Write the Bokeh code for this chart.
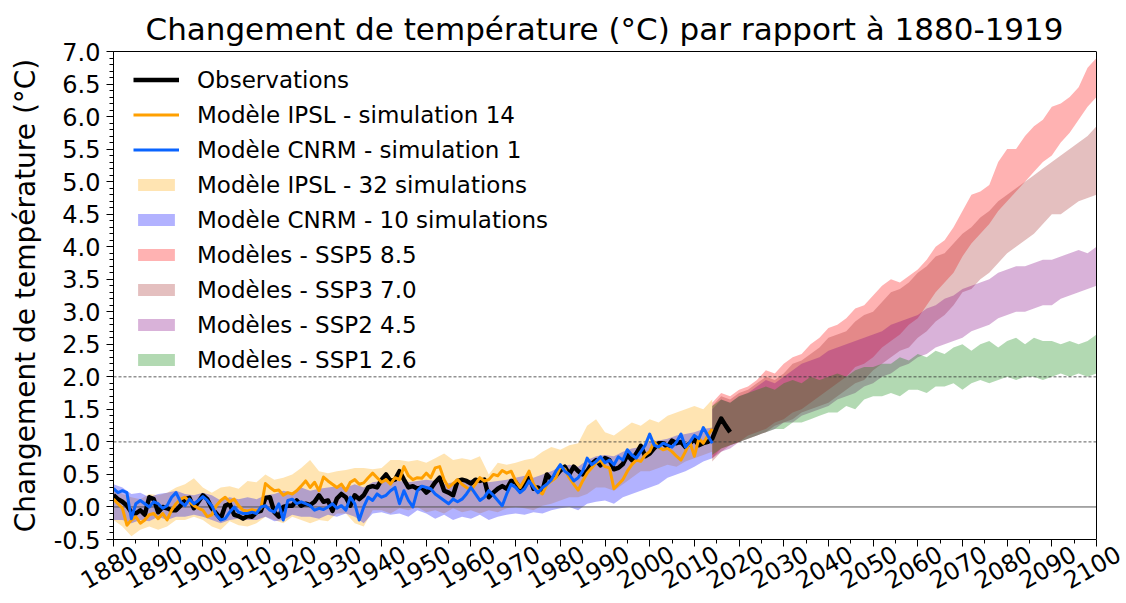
import math
from bokeh.plotting import figure
from bokeh.models import Range1d, FixedTicker, Span, Legend, LegendItem, LinearAxis
from bokeh.embed import file_html
from bokeh.resources import INLINE

FONT = "DejaVu Sans"

# ---------------- data ----------------
obs_years = list(range(1880, 2019))
obs = [
    0.18, 0.12, 0.08, 0.02, -0.08, -0.1, -0.05, -0.12, 0.15, 0.12,
    -0.08, 0.0, -0.02, -0.05, -0.05, 0.02, 0.12, 0.14, -0.02, 0.08,
    0.18, 0.12, -0.02, -0.1, -0.18, 0.02, 0.05, -0.12, -0.14, -0.18,
    -0.14, -0.15, -0.08, -0.06, 0.14, 0.15, -0.08, -0.15, 0.0, 0.02,
    0.02, 0.1, 0.02, 0.05, 0.03, 0.08, 0.18, 0.08, 0.1, -0.06,
    0.13, 0.2, 0.15, 0.02, 0.18, 0.12, 0.18, 0.3, 0.32, 0.3,
    0.42, 0.5, 0.4, 0.42, 0.55, 0.42, 0.3, 0.32, 0.28, 0.3,
    0.22, 0.28, 0.38, 0.45, 0.25, 0.22, 0.18, 0.4, 0.42, 0.4,
    0.36, 0.42, 0.4, 0.42, 0.15, 0.22, 0.28, 0.32, 0.28, 0.4,
    0.38, 0.28, 0.36, 0.48, 0.28, 0.3, 0.25, 0.5, 0.42, 0.48,
    0.56, 0.62, 0.5, 0.62, 0.55, 0.5, 0.55, 0.66, 0.72, 0.64,
    0.75, 0.72, 0.58, 0.6, 0.66, 0.8, 0.72, 0.82, 0.94, 0.78,
    0.82, 0.9, 0.98, 0.98, 0.92, 1.02, 0.98, 1.0, 0.92, 0.98,
    1.04, 0.95, 0.98, 1.0, 1.05, 1.22, 1.36, 1.25, 1.15,
]

hist_years = list(range(1880, 2015))
ipsl_sim14 = [
    0.12, 0.05, -0.02, -0.28, -0.2, -0.15, -0.25, -0.2, -0.12, -0.1,
    -0.18, -0.1, -0.2, -0.05, 0.05, 0.12, 0.15, 0.08, 0.02, -0.02,
    -0.05, -0.15, -0.12, 0.02, 0.1, 0.15, 0.08, 0.12, 0.02, -0.05,
    -0.06, -0.04, -0.06, -0.02, 0.36, 0.3, 0.25, 0.26, 0.18, 0.22,
    0.2, 0.25, 0.32, 0.4, 0.3, 0.38, 0.25, 0.46, 0.4, 0.35,
    0.3, 0.35, 0.25, 0.38, 0.42, 0.35, 0.37, 0.45, 0.52, 0.45,
    0.38, 0.42, 0.35, 0.45, 0.42, 0.62, 0.48, 0.42, 0.45, 0.44,
    0.52, 0.45, 0.6, 0.62, 0.42, 0.3, 0.36, 0.42, 0.35, 0.3,
    0.26, 0.35, 0.45, 0.4, 0.42, 0.5, 0.48, 0.56, 0.52, 0.55,
    0.4, 0.3, 0.42, 0.55, 0.35, 0.25, 0.2, 0.35, 0.4, 0.45,
    0.62, 0.58, 0.45, 0.35, 0.26, 0.4, 0.52, 0.6, 0.68, 0.72,
    0.62, 0.6, 0.28, 0.35, 0.42, 0.55, 0.65, 0.72, 0.7, 0.8,
    0.85, 1.0, 0.92, 0.88, 0.9, 0.85, 0.78, 0.72, 0.85, 1.0,
    0.78, 1.05, 0.98, 1.1, 1.2,
]
cnrm_sim1 = [
    0.28, 0.22, 0.25, 0.22, -0.18, 0.05, 0.1, 0.05, 0.0, 0.08,
    0.05, -0.02, 0.02, 0.15, 0.22, 0.08, 0.02, 0.12, 0.05, 0.1,
    0.16, 0.1, 0.02, -0.12, -0.2, -0.18, -0.08, 0.0, -0.08, -0.1,
    -0.1, -0.08, -0.1, 0.0, 0.02, -0.05, -0.08, 0.05, -0.2, 0.1,
    0.12, 0.05, 0.08, 0.05, 0.02, -0.05, -0.02, -0.04, 0.0, 0.05,
    -0.02, 0.02, -0.05, 0.15, 0.05, -0.2, 0.0, 0.15, 0.1, 0.2,
    0.15, 0.18, 0.25, 0.3, 0.05, 0.25, 0.1, 0.0, 0.25, 0.32,
    0.3, 0.28, 0.2, 0.15, 0.1, 0.05, 0.12, 0.08, 0.12, 0.2,
    0.3, 0.2, 0.1, 0.15, 0.25, 0.18, 0.1, 0.02, 0.2, 0.35,
    0.3, 0.22, 0.28, 0.4, 0.3, 0.22, 0.3, 0.35, 0.42, 0.55,
    0.65, 0.55, 0.5, 0.4, 0.45, 0.55, 0.75, 0.65, 0.7, 0.77,
    0.68, 0.72, 0.65, 0.77, 0.72, 0.88, 0.8, 0.75, 0.85, 0.95,
    1.12, 0.95, 0.92, 0.98, 0.95, 0.92, 1.0, 1.12, 0.92, 1.0,
    1.1, 1.05, 1.22, 1.1, 0.98,
]

band_years = list(range(1880, 2015, 2))
ipsl_low = [
    -0.2, -0.3, -0.45, -0.35, -0.3, -0.35, -0.3, -0.2, -0.2, -0.15,
    -0.2, -0.3, -0.35, -0.22, -0.28, -0.3, -0.25, -0.15, -0.2, -0.25,
    -0.15, -0.2, -0.25, -0.2, -0.22, -0.1, -0.1, -0.25, -0.3, -0.05,
    -0.05, -0.1, -0.02, -0.05, 0.0, -0.08, -0.05, -0.1, -0.02, -0.08,
    -0.05, -0.1, -0.05, -0.08, -0.02, 0.0, -0.02, -0.05, 0.02, 0.05,
    0.1, 0.15, 0.15, 0.2, 0.3, 0.3, 0.25, 0.35, 0.45, 0.55,
    0.55, 0.6, 0.65, 0.62, 0.7, 0.75, 0.8, 0.85,
]
ipsl_high = [
    0.3, 0.2, 0.15, 0.12, 0.2, 0.18, 0.22, 0.3, 0.35, 0.44,
    0.3, 0.22, 0.3, 0.32, 0.28, 0.4, 0.38, 0.5, 0.42, 0.45,
    0.5, 0.6, 0.72, 0.55, 0.52, 0.55, 0.57, 0.6, 0.6, 0.58,
    0.6, 0.72, 0.72, 0.7, 0.72, 0.68, 0.75, 0.82, 0.72, 0.75,
    0.72, 0.78, 0.5, 0.68, 0.65, 0.68, 0.72, 0.75, 0.85, 0.92,
    0.88, 0.95, 0.98, 1.25, 1.35, 1.15, 1.1, 1.2, 1.3, 1.25,
    1.35, 1.3, 1.4, 1.45, 1.5, 1.55, 1.5, 1.65,
]
cnrm_low = [
    -0.2, -0.2, -0.25, -0.2, -0.22, -0.15, -0.2, -0.15, -0.15, -0.12,
    -0.15, -0.2, -0.25, -0.2, -0.18, -0.2, -0.2, -0.15, -0.22, -0.2,
    -0.12, -0.15, -0.15, -0.18, -0.12, -0.15, -0.1, -0.15, -0.25, -0.1,
    -0.08, -0.12, -0.1, -0.15, -0.05, -0.1, -0.18, -0.12, -0.2, -0.15,
    -0.18, -0.12, -0.2, -0.15, -0.12, -0.1, -0.12, -0.08, -0.1, -0.05,
    -0.02, 0.0, -0.05, 0.05, 0.08, 0.1, 0.05, 0.15, 0.2, 0.25,
    0.3, 0.35, 0.45, 0.5, 0.55, 0.62, 0.7, 0.75,
]
cnrm_high = [
    0.35, 0.3, 0.2, 0.22, 0.15, 0.2, 0.22, 0.25, 0.2, 0.18,
    0.22, 0.18, 0.1, 0.15, 0.12, 0.15, 0.12, 0.18, 0.2, 0.25,
    0.22, 0.3, 0.25, 0.28, 0.3, 0.32, 0.3, 0.35, 0.3, 0.38,
    0.4, 0.42, 0.4, 0.38, 0.4, 0.42, 0.4, 0.35, 0.38, 0.4,
    0.42, 0.4, 0.38, 0.4, 0.42, 0.45, 0.48, 0.45, 0.5, 0.55,
    0.62, 0.65, 0.62, 0.72, 0.78, 0.8, 0.78, 0.85, 0.9, 0.92,
    1.0, 1.02, 1.05, 1.1, 1.12, 1.15, 1.2, 1.22,
]

scen_years = list(range(2014, 2101, 2))
ssp585_high = [1.6, 1.75, 1.7, 1.8, 1.85, 1.95, 2.1, 2.05, 2.2, 2.3,
               2.35, 2.5, 2.6, 2.75, 2.8, 2.9, 3.05, 3.1, 3.25, 3.4,
               3.5, 3.45, 3.55, 3.65, 3.8, 4.0, 4.1, 4.3, 4.55, 4.8,
               4.85, 4.95, 5.3, 5.5, 5.5, 5.7, 5.85, 5.95, 6.15, 6.2,
               6.3, 6.45, 6.75, 6.9]
ssp585_low = [0.75, 0.9, 0.95, 1.0, 1.1, 1.15, 1.2, 1.3, 1.35, 1.45,
              1.5, 1.6, 1.7, 1.8, 1.9, 2.0, 2.15, 2.2, 2.3, 2.45,
              2.55, 2.65, 2.8, 2.9, 3.1, 3.3, 3.45, 3.6, 3.85, 4.05,
              4.2, 4.35, 4.55, 4.7, 4.85, 5.0, 5.15, 5.3, 5.4, 5.6,
              5.75, 5.95, 6.15, 6.3]
ssp370_high = [1.55, 1.7, 1.65, 1.75, 1.8, 1.9, 2.0, 1.95, 2.05, 2.2,
               2.25, 2.35, 2.45, 2.6, 2.65, 2.7, 2.85, 2.95, 3.0, 3.15,
               3.3, 3.35, 3.45, 3.6, 3.7, 3.85, 3.9, 4.05, 4.2, 4.3,
               4.45, 4.55, 4.7, 4.8, 4.9, 5.0, 5.1, 5.2, 5.3, 5.4,
               5.5, 5.6, 5.7, 5.85]
ssp370_low = [0.7, 0.85, 0.95, 1.0, 1.05, 1.1, 1.15, 1.25, 1.3, 1.35,
              1.45, 1.5, 1.55, 1.6, 1.7, 1.8, 1.9, 1.95, 2.1, 2.2,
              2.3, 2.4, 2.45, 2.6, 2.7, 2.85, 2.95, 3.1, 3.3, 3.35,
              3.5, 3.6, 3.75, 3.9, 4.0, 4.1, 4.2, 4.35, 4.5, 4.5,
              4.6, 4.7, 4.75, 4.8]
ssp245_high = [1.5, 1.65, 1.6, 1.7, 1.75, 1.85, 1.95, 1.9, 2.0, 2.1,
               2.2, 2.25, 2.3, 2.4, 2.45, 2.5, 2.55, 2.6, 2.65, 2.7,
               2.8, 2.85, 2.9, 2.95, 3.05, 3.1, 3.2, 3.25, 3.35, 3.4,
               3.45, 3.5, 3.6, 3.65, 3.7, 3.7, 3.75, 3.8, 3.8, 3.85,
               3.9, 3.95, 3.9, 4.0]
ssp245_low = [0.75, 0.85, 0.9, 1.0, 1.05, 1.1, 1.15, 1.2, 1.3, 1.3,
              1.4, 1.45, 1.5, 1.55, 1.65, 1.7, 1.75, 1.85, 1.9, 2.0,
              2.05, 2.15, 2.2, 2.3, 2.35, 2.45, 2.5, 2.55, 2.6, 2.7,
              2.75, 2.8, 2.9, 2.95, 3.0, 3.0, 3.05, 3.1, 3.1, 3.2,
              3.25, 3.3, 3.35, 3.4]
ssp126_high = [1.55, 1.65, 1.6, 1.7, 1.75, 1.8, 1.85, 1.8, 1.9, 1.95,
               1.9, 2.0, 1.95, 2.0, 2.05, 2.0, 2.1, 2.15, 2.15, 2.2,
               2.2, 2.3, 2.25, 2.35, 2.3, 2.4, 2.35, 2.45, 2.5, 2.4,
               2.5, 2.55, 2.45, 2.55, 2.6, 2.5, 2.6, 2.55, 2.55, 2.5,
               2.55, 2.5, 2.55, 2.65]
ssp126_low = [0.8, 0.9, 0.95, 1.0, 1.05, 1.1, 1.15, 1.2, 1.2, 1.3,
              1.3, 1.35, 1.4, 1.45, 1.45, 1.55, 1.5, 1.65, 1.7, 1.7,
              1.75, 1.7, 1.8, 1.8, 1.75, 1.85, 1.85, 1.9, 1.8, 1.9,
              1.95, 1.9, 1.95, 2.0, 1.95, 2.0, 2.0, 1.95, 2.0, 2.05,
              2.0, 2.05, 2.0, 2.05]

x_ticks = list(range(1880, 2101, 10))
x_tick_labels = [str(t) for t in x_ticks]
y_ticks = [-0.5, 0.0, 0.5, 1.0, 1.5, 2.0, 2.5, 3.0, 3.5, 4.0, 4.5, 5.0, 5.5, 6.0, 6.5, 7.0]
y_tick_labels = ["-0.5", "0.0", "0.5", "1.0", "1.5", "2.0", "2.5", "3.0", "3.5",
                 "4.0", "4.5", "5.0", "5.5", "6.0", "6.5", "7.0"]

labels = {
    "obs": "Observations",
    "ipsl1": "Modèle IPSL - simulation 14",
    "cnrm1": "Modèle CNRM - simulation 1",
    "ipslb": "Modèle IPSL - 32 simulations",
    "cnrmb": "Modèle CNRM - 10 simulations",
    "s585": "Modèles - SSP5 8.5",
    "s370": "Modèles - SSP3 7.0",
    "s245": "Modèles - SSP2 4.5",
    "s126": "Modèles - SSP1 2.6",
}

# ---------------- figure ----------------
X0, X1 = 1880, 2100
Y0, Y1 = -0.5, 7.0
PX_PER_YEAR = 983 / (X1 - X0)
EXT_PX = 28                      # empty strip right of 2100 so that the last rotated label fits
X1_EXT = X1 + EXT_PX / PX_PER_YEAR
p = figure(width=1125, height=600,
           x_range=Range1d(X0, X1_EXT), y_range=Range1d(Y0, Y1),
           output_backend="svg", toolbar_location=None,
           min_border_left=113, min_border_right=1,
           min_border_top=51, min_border_bottom=60)

p.title.text = "Changement de température (°C) par rapport à 1880-1919"
p.title.align = "left"
p.title.offset = 32
p.title.text_font = FONT
p.title.text_font_size = "31px"
p.title.text_font_style = "normal"
p.title.text_color = "black"

p.xgrid.visible = False
p.ygrid.visible = False
p.outline_line_color = None
p.background_fill_color = "white"
p.border_fill_color = "white"

ALPHA = 0.3
r_ipslb = p.varea(x=band_years, y1=ipsl_low, y2=ipsl_high, fill_color="orange", fill_alpha=ALPHA)
r_cnrmb = p.varea(x=band_years, y1=cnrm_low, y2=cnrm_high, fill_color="blue", fill_alpha=ALPHA)
r585 = p.varea(x=scen_years, y1=ssp585_low, y2=ssp585_high, fill_color="red", fill_alpha=ALPHA)
r370 = p.varea(x=scen_years, y1=ssp370_low, y2=ssp370_high, fill_color="brown", fill_alpha=ALPHA)
r245 = p.varea(x=scen_years, y1=ssp245_low, y2=ssp245_high, fill_color="purple", fill_alpha=ALPHA)
r126 = p.varea(x=scen_years, y1=ssp126_low, y2=ssp126_high, fill_color="green", fill_alpha=ALPHA)

# reference lines (kept inside 1880-2100)
for lv, col, dash, lw in ((0.0, "#555555", "solid", 1), (1.0, "#333333", "3 2", 0.8), (2.0, "#333333", "3 2", 0.8)):
    p.line([X0, X1], [lv, lv], line_color=col, line_dash=dash, line_width=lw)

r_obs = p.line(obs_years, obs, line_color="black", line_width=4.5, line_join="round")
r_ipsl = p.line(hist_years, ipsl_sim14, line_color="#ffa000", line_width=3, line_join="round")
r_cnrm = p.line(hist_years, cnrm_sim1, line_color="#0a64ff", line_width=3, line_join="round")

# right spine at 2100
p.add_layout(Span(location=X1, dimension="height", line_color="black", line_width=1))

legend = Legend(items=[
    LegendItem(label=labels["obs"], renderers=[r_obs]),
    LegendItem(label=labels["ipsl1"], renderers=[r_ipsl]),
    LegendItem(label=labels["cnrm1"], renderers=[r_cnrm]),
    LegendItem(label=labels["ipslb"], renderers=[r_ipslb]),
    LegendItem(label=labels["cnrmb"], renderers=[r_cnrmb]),
    LegendItem(label=labels["s585"], renderers=[r585]),
    LegendItem(label=labels["s370"], renderers=[r370]),
    LegendItem(label=labels["s245"], renderers=[r245]),
    LegendItem(label=labels["s126"], renderers=[r126]),
], location=(4, 150))
legend.margin = 0
legend.padding = 16
legend.spacing = 8
legend.label_height = 27
legend.glyph_height = 15
legend.glyph_width = 46
legend.label_standoff = 18
legend.label_text_font = FONT
legend.label_text_font_size = "23px"
legend.label_text_color = "black"
legend.background_fill_alpha = 0
legend.border_line_alpha = 0
p.add_layout(legend)

# primary x axis: ticks only, bounded to 1880-2100
xa = p.xaxis[0]
xa.bounds = (X0, X1)
xa.ticker = FixedTicker(ticks=x_ticks, minor_ticks=list(range(1885, 2100, 10)))
xa.major_label_overrides = {t: "" for t in x_ticks}
xa.major_label_standoff = 0
xa.major_label_text_font_size = "2px"

# top spine
top = LinearAxis(bounds=(X0, X1), ticker=FixedTicker(ticks=[]),
                 major_label_text_font_size="1px", major_label_standoff=0,
                 major_tick_out=0, major_tick_in=0, minor_tick_out=0, minor_tick_in=0,
                 axis_line_color="black")
p.add_layout(top, "above")

# secondary axis with rotated year labels, shifted so they sit (nearly) centred under the ticks
shift_years = 22 / PX_PER_YEAR
p.extra_x_ranges = {"lab": Range1d(X0 - shift_years, X1_EXT - shift_years)}
xlab = LinearAxis(x_range_name="lab", ticker=FixedTicker(ticks=x_ticks),
                  major_label_overrides={t: l for t, l in zip(x_ticks, x_tick_labels)})
xlab.major_label_orientation = math.pi / 6
xlab.major_label_text_font = FONT
xlab.major_label_text_font_size = "24px"
xlab.major_label_text_color = "black"
xlab.major_label_standoff = 5
xlab.axis_line_alpha = 0
xlab.major_tick_out = 0
xlab.major_tick_in = 0
xlab.minor_tick_out = 0
xlab.minor_tick_in = 0
p.add_layout(xlab, "below")

ya = p.yaxis[0]
ya.ticker = FixedTicker(ticks=y_ticks, minor_ticks=[round(-0.5 + 0.1 * i, 1) for i in range(76)])
ya.major_label_overrides = {t: l for t, l in zip(y_ticks, y_tick_labels)}
ya.axis_label = "Changement de température (°C)"
ya.axis_label_text_font = FONT
ya.axis_label_text_font_size = "28px"
ya.axis_label_text_font_style = "normal"
ya.axis_label_text_color = "black"
ya.axis_label_standoff = 9
ya.major_label_standoff = 6
ya.major_label_text_font = FONT
ya.major_label_text_font_size = "24px"
ya.major_label_text_color = "black"

for ax in (xa, ya):
    ax.axis_line_color = "black"
    ax.major_tick_line_color = "black"
    ax.minor_tick_line_color = "black"
    ax.major_tick_in = 0
    ax.major_tick_out = 7
    ax.minor_tick_in = 0
    ax.minor_tick_out = 4

open("out.html", "w").write(file_html(p, INLINE))
